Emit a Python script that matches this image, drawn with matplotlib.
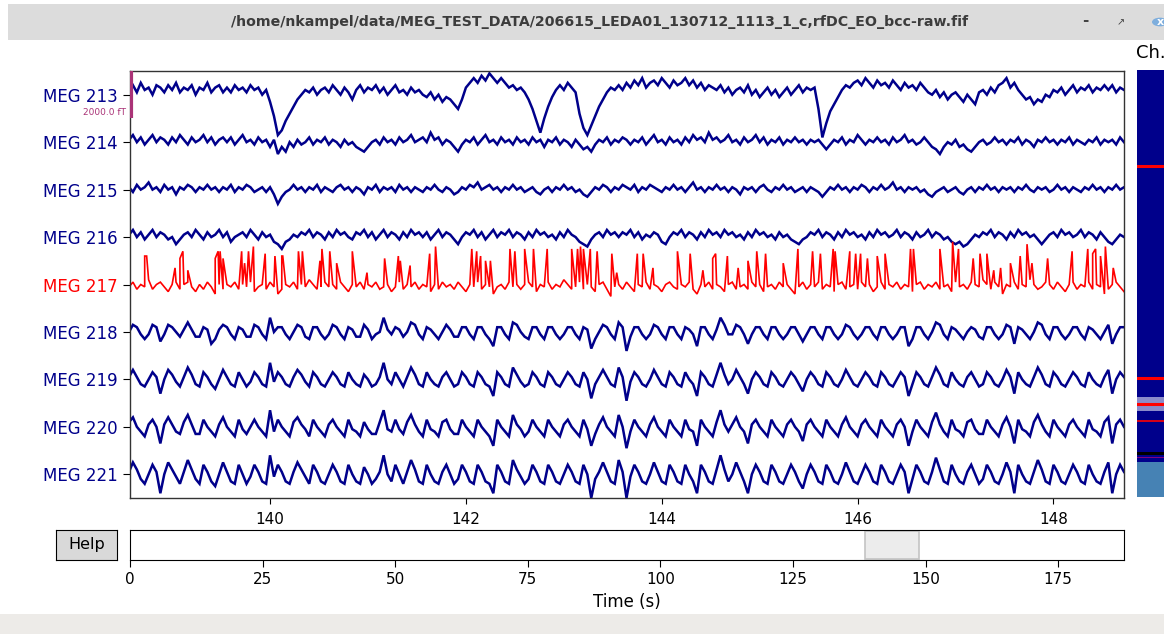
import numpy as np
import matplotlib.pyplot as plt
import matplotlib.colors as mcolors
from matplotlib.patches import Rectangle, Circle

# MNE raw browser screenshot: 9 channels, 10 s window, values in units of 100 fT

ch_names = ['MEG 213', 'MEG 214', 'MEG 215', 'MEG 216', 'MEG 217',
            'MEG 218', 'MEG 219', 'MEG 220', 'MEG 221']
bad_names = ['MEG 217']
t_first = 138.56      # first sample shown (s)
sfreq = 25.0          # samples per second
view_start = 138.57
view_duration = 10.15
raw_duration = 187.4
scaling_ft = 2000.0   # fT per channel spacing (scale bar)

meg213 = [2, 4, 1, 5, 2, 3, 0, 4, 3, 1, 4, 2, 5, 1, 3, 2, 4, 0, 3, 2, 5, 1, 3, 4, 1,
          3, 1, 4, 2, 3, 1, 4, 2, 3, 0, 2, -3, -9, -17, -15, -11, -8, -5, -2, 0, 2, 1, 3, 0, 2,
          3, 1, 4, 2, 0, 3, 1, -2, 2, 4, 1, 3, 2, 4, 1, 3, 0, 2, 4, 1, 2, 0, 3, 1, 2,
          0, -1, 1, -2, 0, -3, -1, -2, -4, -6, -2, 3, 5, 7, 5, 8, 6, 9, 7, 5, 7, 5, 3, 4, 2,
          3, 1, -2, -6, -11, -16, -10, -5, -1, 2, 4, 2, 5, 3, 1, -8, -14, -17, -13, -9, -5, -2, 1, 3, 2,
          4, 2, 5, 3, 6, 4, 7, 3, 5, 6, 4, 7, 5, 3, 6, 4, 5, 7, 4, 6, 3, 5, 2, 4, 3,
          2, 4, 1, 3, 0, 2, 3, 1, 4, 0, 2, -1, 1, 3, 0, 2, -1, 1, 3, 0, 2, 4, 1, 3, 2,
          3, -6, -18, -12, -7, -4, -1, 2, 4, 3, 5, 6, 4, 7, 5, 3, 6, 4, 5, 3, 6, 4, 2, 5, 3,
          4, 2, 5, 3, 1, 0, 2, -1, 1, -2, 0, 1, -1, -3, 0, -2, -4, 1, 2, 0, 3, 1, 4, 5, 7,
          3, 5, 2, 0, -2, -1, -4, -2, -3, 0, -1, 2, 1, 3, 0, 2, 4, 1, 3, 2, 4, 1, 3, 2, 4,
          2, 4, 1, 3, 2]

meg214 = [1, 3, 0, 2, -1, 1, 3, 0, 2, 1, -1, 2, 0, 3, 1, -1, 2, 0, 1, 3, 0, 2, -1, 1, 2,
          0, 2, -1, 1, 3, 0, 1, -1, 2, 0, 1, -2, 1, -5, -2, -4, 0, -2, 1, -1, 0, 2, -1, 1, 0,
          2, -1, 1, 0, -2, 1, -1, 0, -2, -3, -4, -2, 0, 1, -1, 2, 0, 1, -1, 2, 0, 1, 3, 0, 1,
          2, 0, 4, 1, 2, -1, 1, 0, -2, -4, -1, 1, 0, 2, -1, 1, 3, 0, 1, -1, 2, 0, 1, -1, 2,
          0, 1, -1, 2, 0, 1, -2, 1, 0, 2, -1, 1, 0, -2, 1, -1, -3, -2, -4, -1, 1, 0, 2, -1, 1,
          0, 2, 1, -1, 1, 0, 2, -1, 1, 3, 0, 1, -1, 2, 0, 1, -1, 2, 0, 3, 1, 2, 0, 4, 1,
          2, 0, 1, 3, 0, 1, -1, 2, 0, 1, 3, 0, 2, -1, 1, 0, 2, -1, 1, 0, 2, 0, 1, -1, 1,
          0, 1, -1, -3, -1, 1, 0, 2, -1, 1, 0, 3, 1, -1, 1, 0, 2, 0, 1, -1, 2, 0, 1, 3, 0,
          1, -1, 0, 2, 0, -2, -3, -5, -2, 0, -1, 1, -2, -1, -3, -4, -2, 0, 1, -1, 0, 2, 0, 1, -1,
          1, 0, 2, -1, 1, 0, -2, 1, 0, 2, 0, 1, -1, 1, 0, 2, -1, 1, 0, -1, 1, 0, 2, -1, 1,
          0, 1, -1, 2, 0]

meg215 = [1, -1, 2, 0, 1, 3, 0, 1, -1, 2, 0, 1, -2, 1, 0, 2, 1, -1, 1, 0, 2, 0, 1, -1, 1,
          0, 2, -1, 1, 0, 2, 1, -1, 0, 1, -1, 1, -2, -6, -3, -1, 0, 2, 0, 1, -1, 1, 0, 2, -1,
          1, 0, -1, 1, 2, 0, 1, -1, 1, 0, -2, 1, 0, 2, -1, 1, 0, 1, -1, 2, 0, 1, -1, 1, 0,
          -1, 1, 0, 2, 0, -1, 1, 0, -2, -1, 1, 0, 2, 1, 3, 0, 1, 2, 0, 1, -1, 1, 0, 2, 0,
          1, -1, 0, 1, -1, -2, 0, 1, -1, 1, 0, 2, 0, 1, -1, 0, -2, -3, -1, 1, 0, 2, 1, -1, 1,
          0, 2, 1, 0, 2, -1, 1, 0, 2, 1, 0, -1, 1, 0, 2, 0, 1, -1, 1, 3, 0, 1, -1, 1, 0,
          2, 0, 1, -1, 1, 0, -2, 1, 0, 1, -1, 1, 2, 0, -1, 1, 0, 2, 0, 1, -1, 0, 1, -1, 1,
          0, -1, -3, -1, 1, 0, 2, 0, 1, -1, 1, 0, 2, 1, -1, 1, 0, 2, 0, 1, 3, 0, 1, -1, 1,
          0, 1, -1, 0, -2, -3, -1, 0, 1, -1, 0, 1, -1, -2, 0, 1, -1, 1, 0, 2, 0, 1, -1, 1, 0,
          1, -1, 1, 0, 2, 0, -1, 1, 0, 1, -1, 0, 2, 0, 1, -1, 1, 0, -1, 1, 0, 2, 0, 1, -1,
          1, 0, 2, 0, 1]

meg216 = [1, 3, 0, 2, -1, 1, 3, 0, 2, 1, -1, 0, -3, -1, 1, 2, 0, 3, 1, -1, 2, 0, 1, 3, 0,
          2, -2, 0, 1, 2, 0, 3, 1, -1, 2, 0, 1, -2, -3, -5, -2, -1, 1, 0, 2, 1, 3, 0, 2, 1,
          -1, 2, 0, 3, 1, 2, 0, -1, 2, 1, 3, 0, 2, -1, 1, 3, 0, 2, 1, -1, 2, 0, 3, 1, 2,
          0, 2, -1, 1, 3, 0, 2, 1, -1, -3, 0, 2, 1, 3, 0, 2, -1, 1, 3, 0, 2, 1, 3, 0, 2,
          1, -1, 2, 0, 3, 1, 2, 0, 1, -1, 2, 0, 3, 1, 0, -2, -3, -4, -1, 1, 2, 0, 3, 1, 2,
          0, 2, 1, 3, 0, 2, -1, 1, 0, 2, 1, -2, -3, 0, 2, 1, 3, 0, 2, 1, -1, 2, 0, 3, 1,
          2, 0, 3, 1, 2, 0, 1, -1, 2, 0, 3, 1, 2, 0, 1, -1, 2, 0, 1, -1, -2, -3, -1, 0, 2,
          1, 3, 0, 2, 1, -1, 2, 0, 3, 1, 2, 0, 1, -1, 2, 0, 3, 1, 2, 0, 1, 3, 0, 2, 1,
          -1, 2, 0, 1, 3, 0, 2, 1, -1, 0, -2, -3, -2, -4, -3, -1, 1, 0, 2, 1, 3, 0, 2, 1, -1,
          2, 0, 3, 1, 2, 0, 1, -1, -3, -1, 1, 2, 0, 3, 1, 2, 0, 1, 3, 0, 2, 1, -1, 2, 0,
          -2, -3, -1, 1, 0]

meg217 = [-1, 1, -2, 0, -1, 2, -2, 0, 1, -1, -3, 0, 1, -2, 0, 1, -1, -3, 0, -2, 1, -1, -4, 0, -2,
          0, -1, 1, -2, 0, -1, 1, -3, -1, 0, -2, 1, -1, -4, -2, 0, -1, 1, -2, 0, -1, 2, 0, -2, -1,
          1, -1, 0, -2, 1, -1, -3, 0, -1, 1, -2, 0, -1, 1, -2, -1, 0, -3, -1, 1, -2, 0, -1, 1, -2,
          0, -1, -3, 0, -2, 1, -1, 0, -2, 1, -1, -3, 0, -1, 1, -2, 0, -1, -4, -1, 0, -2, 1, -1, 0,
          -2, 0, 1, -1, -3, 0, -1, 1, -2, 0, -1, 2, 0, -2, -1, 1, -2, 0, -1, -3, 0, 1, -2, -5, -1,
          0, -2, 1, -1, -3, 0, -1, 1, -2, 0, -1, -3, 0, 1, -1, -2, 0, -1, 1, -2, -4, 0, -1, 1, -2,
          0, -1, -3, 0, 1, -2, -1, 0, -2, 1, -1, 0, -3, -1, 0, -2, 1, -1, 0, -2, -4, -1, 1, -2, 0,
          -1, 1, -2, 0, -1, -3, 0, 1, -2, -1, 0, -2, 1, -1, 0, -3, -1, 1, -2, 0, -1, 1, -2, 0, -1,
          -3, 0, 1, -2, 0, -1, 1, -2, -1, 0, -3, 1, -1, 0, -2, 1, 0, -1, 2, 0, -2, 1, -1, -4, 0,
          -1, 1, -2, 0, -1, 2, 0, -2, -1, 1, 0, -2, 1, -1, -3, 0, 1, -2, 0, -1, 1, -2, 0, -1, -4,
          -2, 0, 1, -1, -3]

# sharp spikes on the bad channel (time in s, peak in 100 fT)
spike217_t = [138.72, 138.74, 139.03, 139.08, 139.11, 139.16, 139.44, 139.47, 139.49, 139.52,
              139.71, 139.74, 139.78, 139.83, 139.95, 140.05, 140.12, 140.13, 140.29, 140.33,
              140.51, 140.53, 140.61, 140.68, 140.84, 140.99, 141.17, 141.31, 141.33, 141.43,
              141.63, 141.69, 142.06, 142.11, 142.15, 142.20, 142.25, 142.45, 142.50, 142.60,
              142.69, 142.83, 143.08, 143.14, 143.17, 143.20, 143.27, 143.34, 143.49, 143.54,
              143.75, 143.81, 143.91, 144.16, 144.29, 144.42, 144.52, 144.55, 144.67, 144.78,
              144.88, 144.97, 145.06, 145.24, 145.39, 145.54, 145.62, 145.75, 145.77, 145.92,
              145.98, 146.03, 146.10, 146.20, 146.28, 146.54, 146.57, 146.84, 146.97, 147.03,
              147.18, 147.25, 147.32, 147.39, 147.46, 147.56, 147.66, 147.73, 147.78, 147.94,
              148.19, 148.35, 148.40, 148.43, 148.48, 148.53, 148.61]
spike217_h = [12, 12, 7, 11, 14, 6, 11, 14, 14, 11,
              14, 9, 14, 16, 13, 12, 12, 12, 14, 14,
              10, 15, 14, 9, 14, 5, 11, 12, 10, 8,
              13, 16, 15, 14, 12, 10, 10, 15, 14, 15,
              15, 15, 15, 15, 16, 15, 15, 14, 13, 5,
              13, 13, 7, 14, 13, 6, 11, 13, 12, 7,
              10, 14, 13, 9, 15, 14, 13, 15, 14, 14,
              13, 13, 11, 12, 13, 15, 15, 15, 18, 15,
              11, 13, 13, 6, 7, 9, 12, 17, 9, 11,
              14, 15, 13, 15, 12, 16, 7]

meg218 = [0, 3, 2, -1, -3, -1, 3, 2, -4, -1, 3, 2, 0, -2, 1, 4, 1, -2, -2, 2, 1, -5, -3, 1, 3,
          2, -1, -3, 2, 1, -2, -2, 3, 2, -1, -3, 6, 0, 2, 2, -1, -3, 0, 3, 2, -2, -3, 2, 2, -1,
          -3, -1, 3, 2, -1, -3, 2, 1, -2, -2, 3, 1, -3, -1, 0, 6, 1, -1, 2, 1, -2, 0, 4, 3, -1,
          -3, 2, 1, -1, -3, 0, 3, 1, -2, -2, 2, 2, -1, -3, 2, 2, -1, -3, -6, 2, 2, -1, -3, 4, 3,
          0, -2, -3, 2, 2, -1, -3, 2, 2, -1, -3, -1, 2, 2, -1, -3, 2, 1, -7, -3, 0, 3, 2, -1, -3,
          4, 2, -8, -2, 2, 2, -1, -3, -1, 3, 2, -1, -3, 2, 2, -1, -3, 2, 1, -1, -6, 2, 2, -1, -3,
          1, 6, 3, -1, -1, 3, 2, -1, -5, -1, 2, 2, -1, -3, 2, 2, -1, -3, -1, 2, 2, -1, -4, -1, 2,
          2, -1, -3, 2, 2, -1, -3, -1, 3, 2, -1, -3, -1, 2, 2, -1, -3, 2, 2, -1, -3, -1, 2, 2, -6,
          -3, 2, 2, -1, -3, 0, 4, 3, -1, -3, 2, 1, -1, -3, 0, 2, 1, -2, -3, 2, 2, -1, -3, -1, 3,
          2, -5, 2, 1, -1, -3, 0, 4, 3, -1, -3, 2, 2, -1, -3, -1, 2, 2, -1, -3, 2, 1, -1, -3, 0,
          3, -5, -1, 2, 2]

meg219 = [1, 4, 1, -2, -3, 0, 3, 1, -6, 0, 4, 2, -1, -3, 1, 5, 2, -2, -3, 3, 1, -2, -4, 0, 4,
          1, -2, -3, 3, 0, -3, -1, 3, 1, -2, -3, 7, -1, 3, 1, -2, -3, 1, 4, 2, -1, -3, 3, 1, -2,
          -3, 0, 3, 1, -2, -3, 3, 0, -2, -3, 2, 0, -3, -2, 1, 7, 0, -2, 3, 0, -3, 1, 5, 2, -2,
          -3, 3, 0, -2, -3, 1, 3, 0, -3, -2, 3, 1, -2, -3, 3, 1, -2, -3, -7, 3, 1, -2, -3, 5, 2,
          -1, -3, -2, 3, 1, -2, -3, 3, 1, -2, -3, 0, 3, 1, -2, -3, 3, 0, -8, -2, 1, 4, 1, -2, -3,
          5, 1, -9, -1, 3, 1, -2, -3, 0, 4, 1, -2, -3, 3, 1, -2, -3, 3, 0, -2, -7, 3, 1, -2, -3,
          2, 7, 2, -2, 0, 4, 1, -2, -6, 0, 3, 1, -2, -3, 3, 1, -2, -3, 0, 3, 1, -2, -5, 0, 3,
          1, -2, -3, 3, 1, -2, -3, 0, 4, 1, -2, -3, 0, 3, 1, -2, -3, 3, 1, -2, -3, 0, 3, 1, -7,
          -2, 3, 1, -2, -3, 1, 5, 2, -2, -3, 3, 0, -2, -3, 1, 3, 0, -3, -2, 3, 1, -2, -3, 0, 4,
          1, -6, 3, 0, -2, -3, 1, 5, 2, -2, -3, 3, 1, -2, -3, 0, 3, 1, -2, -3, 3, 0, -2, -3, 1,
          4, -6, 0, 3, 1]

meg220 = [2, 4, 0, -2, -4, 1, 3, 0, -7, 1, 4, 1, -2, -3, 2, 5, 1, -3, -3, 3, 0, -2, -4, 1, 4,
          0, -2, -4, 3, -1, -3, 0, 3, 0, -2, -4, 7, -2, 3, 0, -2, -4, 2, 4, 1, -1, -4, 3, 0, -2,
          -4, 1, 3, 0, -2, -4, 3, -1, -2, -4, 2, -1, -3, -3, 2, 7, -1, -2, 3, -1, -3, 2, 5, 1, -2,
          -4, 3, -1, -2, -4, 2, 3, -1, -3, -3, 3, 0, -2, -4, 3, 0, -2, -4, -8, 3, 0, -2, -4, 5, 1,
          -1, -4, -2, 3, 0, -2, -4, 3, 0, -2, -4, 1, 3, 0, -2, -4, 3, -1, -8, -3, 1, 4, 0, -2, -4,
          5, 0, -9, -2, 3, 0, -2, -4, 1, 4, 0, -2, -4, 3, 0, -2, -4, 3, -1, -2, -8, 3, 0, -2, -4,
          2, 7, 1, -2, 1, 4, 0, -2, -7, 1, 3, 0, -2, -4, 3, 0, -2, -4, 1, 3, 0, -2, -6, 1, 3,
          0, -2, -4, 3, 0, -2, -4, 1, 4, 0, -2, -4, 1, 3, 0, -2, -4, 3, 0, -2, -4, 1, 3, 0, -8,
          -2, 3, 0, -2, -4, 2, 6, 1, -2, -4, 3, -1, -2, -4, 2, 3, -1, -3, -3, 3, 0, -2, -4, 1, 4,
          0, -7, 3, -1, -2, -4, 2, 5, 1, -2, -4, 3, 0, -2, -4, 1, 3, 0, -2, -4, 3, -1, -2, -4, 2,
          4, -7, 1, 3, 0]

meg221 = [1, 5, 2, -2, -4, 0, 4, 1, -8, 0, 5, 2, -1, -4, 1, 6, 2, -2, -4, 4, 1, -3, -5, 0, 5,
          1, -3, -4, 4, 0, -4, -1, 4, 1, -3, -4, 8, -1, 4, 1, -3, -4, 1, 5, 2, -1, -4, 4, 1, -3,
          -4, 0, 4, 1, -3, -4, 4, 0, -3, -4, 3, 0, -4, -2, 1, 8, 0, -3, 4, 0, -4, 1, 6, 2, -3,
          -4, 4, 0, -3, -4, 1, 4, 0, -4, -2, 4, 1, -3, -4, 4, 1, -3, -4, -8, 4, 1, -3, -4, 6, 2,
          -1, -4, -2, 4, 1, -3, -4, 4, 1, -3, -4, 0, 4, 1, -3, -4, 4, 0, -10, -2, 1, 5, 1, -3, -4,
          6, 1, -10, -1, 4, 1, -3, -4, 0, 5, 1, -3, -4, 4, 1, -3, -4, 4, 0, -3, -8, 4, 1, -3, -4,
          2, 8, 2, -3, 0, 5, 1, -3, -8, 0, 4, 1, -3, -4, 4, 1, -3, -4, 0, 4, 1, -3, -6, 0, 4,
          1, -3, -4, 4, 1, -3, -4, 0, 5, 1, -3, -4, 0, 4, 1, -3, -4, 4, 1, -3, -4, 0, 4, 1, -8,
          -2, 4, 1, -3, -4, 1, 7, 2, -3, -4, 4, 0, -3, -4, 1, 4, 0, -4, -2, 4, 1, -3, -4, 0, 5,
          1, -8, 4, 0, -3, -4, 1, 6, 2, -3, -4, 4, 1, -3, -4, 0, 4, 1, -3, -4, 4, 0, -3, -4, 1,
          5, -8, 0, 4, 1]

traces = [meg213, meg214, meg215, meg216, meg217, meg218, meg219, meg220, meg221]

# channel overview (4D system: 248 MEG, 6 stim/ecg/misc, 23 reference)
overview_types = (['mag'] * 248 + ['stim', 'stim', 'misc', 'ecg', 'misc', 'misc']
                  + ['ref_meg'] * 23)
overview_bads = [62, 199, 216, 227]
first_shown = 212
type_colors = {'mag': 'darkblue', 'stim': 'k', 'misc': 'darkblue', 'ecg': 'purple',
               'ref_meg': 'steelblue'}

W, H = 1164, 634
fig = plt.figure(figsize=(W / 100, H / 100), dpi=100)
fig.patch.set_facecolor('white')


def fx(px):
    return px / W


def fy(py):
    return 1 - py / H


# window decorations
fig.patches.append(Rectangle((fx(8), fy(40)), 1, 36 / H, transform=fig.transFigure,
                             facecolor='#dcdcdc', edgecolor='none', zorder=0))
fig.patches.append(Rectangle((0, 0), 1, 20 / H, transform=fig.transFigure,
                             facecolor='#edebe8', edgecolor='none', zorder=0))
fig.text(fx(600), fy(22), '/home/nkampel/data/MEG_TEST_DATA/206615_LEDA01_130712_1113_1_c,rfDC_EO_bcc-raw.fif',
         ha='center', va='center', fontsize=10.2, fontweight='bold', color='#3c3c3c')
fig.text(fx(1085), fy(21), '-', ha='center', va='center', fontsize=11, fontweight='bold', color='#444444')
fig.text(fx(1121), fy(22), '↗', ha='center', va='center', fontsize=7, color='#444444')
fig.patches.append(Circle((fx(1160), fy(22)), 8 / W, transform=fig.transFigure,
                          facecolor='#7eaedd', edgecolor='none'))
fig.text(fx(1160), fy(22), 'x', ha='center', va='center', fontsize=8, color='white', fontweight='bold')

# main traces
ax = fig.add_axes([fx(130), fy(498), fx(994), 427 / H])
n = len(ch_names)
for i, (name, vals) in enumerate(zip(ch_names, traces)):
    v = np.array(vals, dtype=float)
    t = t_first + np.arange(len(v)) / sfreq
    color = 'red' if name in bad_names else 'darkblue'
    lw = 1.8
    if name == 'MEG 217':
        t = np.concatenate([t, spike217_t])
        v = np.concatenate([v, spike217_h])
        order = np.argsort(t, kind='stable')
        t, v = t[order], v[order]
        lw = 1.2
    ax.plot(t, (i + 1) - v * 100 / scaling_ft, color=color, lw=lw, solid_joinstyle='miter')

ax.set_xlim(view_start, view_start + view_duration)
ax.set_ylim(n + 0.5, 0.5)
ax.set_yticks(np.arange(1, n + 1))
ax.set_yticklabels(ch_names, fontsize=12)
for lab in ax.get_yticklabels():
    lab.set_color('red' if lab.get_text() in bad_names else 'darkblue')
ax.set_xticks(np.arange(140, 149, 2))
ax.tick_params(axis='x', labelsize=11, length=4, pad=6)
ax.tick_params(axis='y', length=5, pad=4)
for sp in ax.spines.values():
    sp.set_color('#333333')
    sp.set_linewidth(1.0)

# scale bar
ax.plot([view_start + 0.012] * 2, [0.5, 1.5], color='#AA3377', lw=3, solid_capstyle='butt', zorder=5)
ax.annotate('%.1f fT' % scaling_ft, xy=(view_start, 1.38), xytext=(-3, 0), textcoords='offset points',
            ha='right', va='center', fontsize=6.5, color='#AA3377', annotation_clip=False)

# channel overview strip
ax_ch = fig.add_axes([fx(1137), fy(497), 0.06, 427 / H])
N = len(overview_types)
cols = np.array([mcolors.to_rgb(type_colors[c]) for c in overview_types])
ax_ch.imshow(cols[:, None, :], aspect='auto', interpolation='nearest', extent=(0, 1, N, 0))
for b in overview_bads:
    ax_ch.axhline(b + 0.5, color='red', lw=2.2 if b != 227 else 1.2)
ax_ch.add_patch(Rectangle((0, first_shown), 1, n, facecolor='white', alpha=0.55, edgecolor='none'))
ax_ch.set_xlim(0, 1)
ax_ch.set_ylim(N, 0)
ax_ch.set_xticks([])
ax_ch.set_yticks([])
for sp in ax_ch.spines.values():
    sp.set_visible(False)
fig.text(fx(1136), fy(53), 'Ch.', ha='left', va='center', fontsize=13, color='black')

# horizontal scroll bar
ax_hs = fig.add_axes([fx(130), fy(560), fx(994), 30 / H])
ax_hs.add_patch(Rectangle((view_start, 0.02), view_duration, 0.96, facecolor='#ececec',
                          edgecolor='#c4c4c4', lw=1.2))
ax_hs.set_xlim(0, raw_duration)
ax_hs.set_ylim(0, 1)
ax_hs.set_yticks([])
ax_hs.set_xticks(np.arange(0, raw_duration, 25))
ax_hs.tick_params(axis='x', labelsize=11, length=5, pad=4)
ax_hs.set_xlabel('Time (s)', fontsize=12, labelpad=4)

# help button
ax_help = fig.add_axes([fx(56), fy(560), fx(61), 30 / H])
ax_help.set_facecolor('#d9d9d9')
ax_help.set_xticks([])
ax_help.set_yticks([])
ax_help.text(0.5, 0.5, 'Help', ha='center', va='center', fontsize=11.5, transform=ax_help.transAxes)

fig.savefig('out.png', dpi=100)
